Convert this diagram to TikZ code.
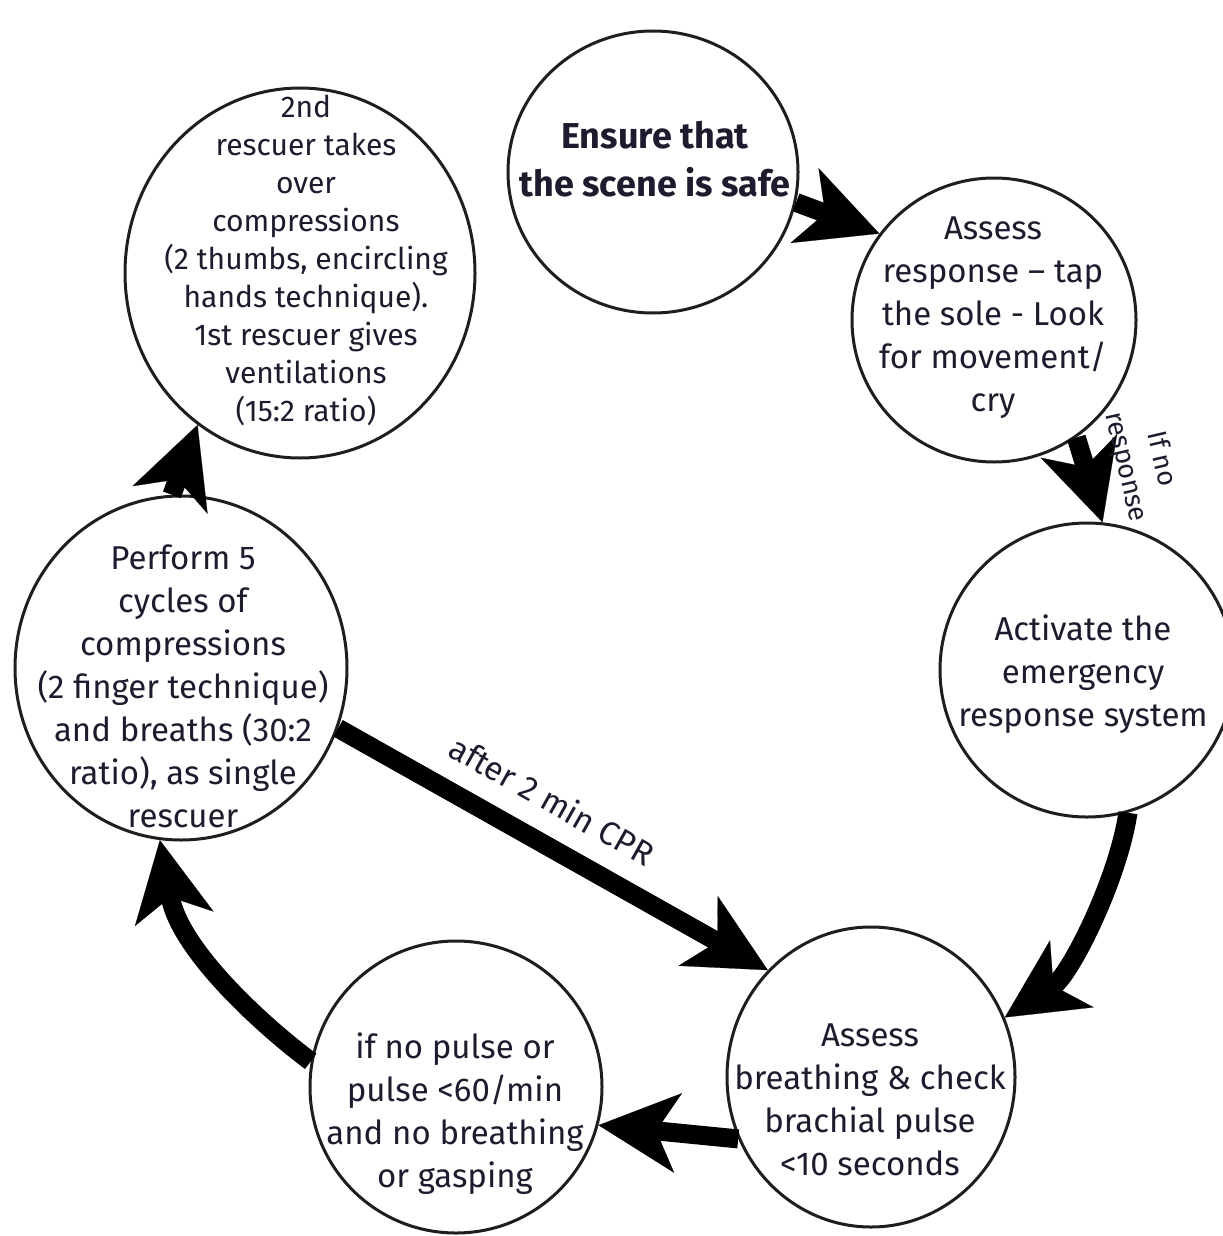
\documentclass[tikz,border=0pt]{standalone}
\usepackage{fontspec}
\setmainfont{Fira Sans}
\usetikzlibrary{arrows.meta,shapes.geometric}
\definecolor{ink}{RGB}{28,28,46}
\definecolor{rim}{RGB}{30,30,30}
\begin{document}
\begin{tikzpicture}[x=0.5pt,y=-0.5pt,
  disc/.style={ellipse, draw=rim, line width=1.5pt, fill=white, inner sep=0pt},
  txt/.style={align=center, text=ink, inner sep=0pt, font=\fontsize{16.5}{21.5}\selectfont},
  flow/.style={draw=black, line width=9.5pt, -{Stealth[length=40pt,width=40pt,inset=11pt,line width=0.1pt]}},
  lbl/.style={text=ink, inner sep=0pt, font=\fontsize{16.5}{18}\selectfont}]
\useasboundingbox (0,0) rectangle (1222,1236);

% circles
\node[disc, minimum width=145pt, minimum height=141pt] (ensure) at (653,172) {};
\node[disc, minimum width=142pt, minimum height=142pt] (assess) at (994,320) {};
\node[disc, minimum width=147pt, minimum height=147pt] (activate) at (1087,670) {};
\node[disc, minimum width=144pt, minimum height=150pt] (breath) at (871,1077) {};
\node[disc, minimum width=146pt, minimum height=146pt] (nopulse) at (456,1087) {};
\node[disc, minimum width=166pt, minimum height=172pt] (perform) at (181,668) {};
\node[disc, minimum width=175pt, minimum height=185pt] (second) at (300,273) {};

% texts
\node[txt, font=\bfseries\fontsize{18}{24}\selectfont] (ensureT) at (655,159) {Ensure that\\the scene is safe};
\node[txt] (assessT) at (993,318) {Assess\\response -- tap\\the sole - Look\\for movement/\\cry};
\node[txt] (activateT) at (1083,674) {Activate the\\emergency\\response system};
\node[txt] (breathT) at (870,1100) {Assess\\breathing \& check\\brachial pulse\\<10 seconds};
\node[txt] (nopulseT) at (455,1114) {if no pulse or\\pulse <60/min\\and no breathing\\or gasping};
\node[txt] (performT) at (183,686) {Perform 5\\cycles of\\compressions\\(2 finger technique)\\and breaths (30:2\\ratio), as single\\rescuer};
\node[txt, font=\fontsize{15}{19}\selectfont] (secondT) at (306,260) {2nd\\rescuer takes\\over\\compressions\\(2 thumbs, encircling\\hands technique).\\1st rescuer gives\\ventilations\\(15:2 ratio)};

% connectors
\draw[flow] (ensure.-12) -- (assess.143);
\draw[flow] (assess.-55) -- (activate.84);
\draw[flow] (activate.-74) .. controls (1118,880) and (1070,975) .. (breath.24);
\draw[flow] (breath.205) -- (nopulse.-15);
\draw[flow] (nopulse.170) .. controls (262,1025) and (180,950) .. (perform.-97);
\draw[flow] (perform.93) -- (second.-124);
\draw[flow] (perform.-21) -- (breath.134)
  node[lbl, pos=0.45, sloped, above=10pt] (cprL) {after 2 min CPR};

\node[lbl, font=\fontsize{13.5}{18}\selectfont, align=center, rotate=-77] (noresp) at (1143,463) {If no\\response};
\end{tikzpicture}
\end{document}
